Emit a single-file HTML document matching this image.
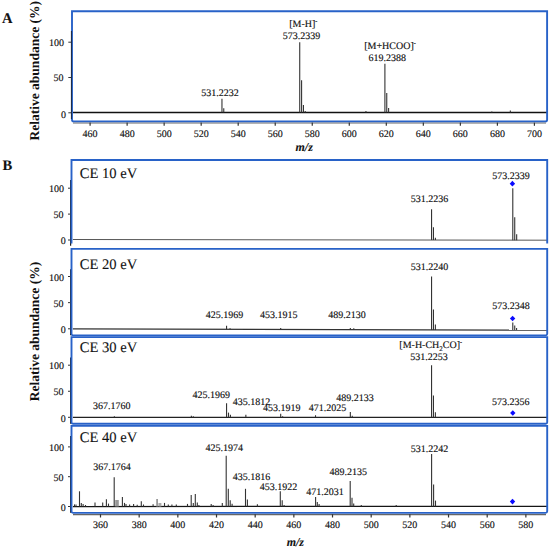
<!DOCTYPE html>
<html><head><meta charset="utf-8"><style>
html,body{margin:0;padding:0;background:#fff;}
svg{display:block;font-family:"Liberation Serif",serif;text-rendering:geometricPrecision;}
</style></head><body>
<svg width="550" height="548" viewBox="0 0 550 548">
<rect width="550" height="548" fill="#fff"/>
<line x1="68.30" y1="42.20" x2="71.00" y2="42.20" stroke="#333" stroke-width="1.0"/>
<line x1="68.30" y1="77.50" x2="71.00" y2="77.50" stroke="#333" stroke-width="1.0"/>
<line x1="68.30" y1="112.80" x2="71.00" y2="112.80" stroke="#333" stroke-width="1.0"/>
<text x="63.90" y="46.00" font-size="10" text-anchor="end" font-weight="normal" font-style="normal" fill="#111" stroke="#111" stroke-width="0.15" >100</text>
<text x="63.40" y="81.40" font-size="10" text-anchor="end" font-weight="normal" font-style="normal" fill="#111" stroke="#111" stroke-width="0.15" >50</text>
<text x="66.00" y="117.50" font-size="10" text-anchor="end" font-weight="normal" font-style="normal" fill="#111" stroke="#111" stroke-width="0.15" >0</text>
<line x1="73.00" y1="123.00" x2="546.00" y2="123.00" stroke="#666" stroke-width="1.2"/>
<line x1="90.10" y1="122.60" x2="90.10" y2="125.80" stroke="#333" stroke-width="1.2"/>
<text x="90.10" y="136.70" font-size="10" text-anchor="middle" font-weight="normal" font-style="normal" fill="#111" stroke="#111" stroke-width="0.15" >460</text>
<line x1="127.13" y1="122.60" x2="127.13" y2="125.80" stroke="#333" stroke-width="1.2"/>
<text x="127.13" y="136.70" font-size="10" text-anchor="middle" font-weight="normal" font-style="normal" fill="#111" stroke="#111" stroke-width="0.15" >480</text>
<line x1="164.15" y1="122.60" x2="164.15" y2="125.80" stroke="#333" stroke-width="1.2"/>
<text x="164.15" y="136.70" font-size="10" text-anchor="middle" font-weight="normal" font-style="normal" fill="#111" stroke="#111" stroke-width="0.15" >500</text>
<line x1="201.18" y1="122.60" x2="201.18" y2="125.80" stroke="#333" stroke-width="1.2"/>
<text x="201.18" y="136.70" font-size="10" text-anchor="middle" font-weight="normal" font-style="normal" fill="#111" stroke="#111" stroke-width="0.15" >520</text>
<line x1="238.20" y1="122.60" x2="238.20" y2="125.80" stroke="#333" stroke-width="1.2"/>
<text x="238.20" y="136.70" font-size="10" text-anchor="middle" font-weight="normal" font-style="normal" fill="#111" stroke="#111" stroke-width="0.15" >540</text>
<line x1="275.23" y1="122.60" x2="275.23" y2="125.80" stroke="#333" stroke-width="1.2"/>
<text x="275.23" y="136.70" font-size="10" text-anchor="middle" font-weight="normal" font-style="normal" fill="#111" stroke="#111" stroke-width="0.15" >560</text>
<line x1="312.26" y1="122.60" x2="312.26" y2="125.80" stroke="#333" stroke-width="1.2"/>
<text x="312.26" y="136.70" font-size="10" text-anchor="middle" font-weight="normal" font-style="normal" fill="#111" stroke="#111" stroke-width="0.15" >580</text>
<line x1="349.28" y1="122.60" x2="349.28" y2="125.80" stroke="#333" stroke-width="1.2"/>
<text x="349.28" y="136.70" font-size="10" text-anchor="middle" font-weight="normal" font-style="normal" fill="#111" stroke="#111" stroke-width="0.15" >600</text>
<line x1="386.31" y1="122.60" x2="386.31" y2="125.80" stroke="#333" stroke-width="1.2"/>
<text x="386.31" y="136.70" font-size="10" text-anchor="middle" font-weight="normal" font-style="normal" fill="#111" stroke="#111" stroke-width="0.15" >620</text>
<line x1="423.33" y1="122.60" x2="423.33" y2="125.80" stroke="#333" stroke-width="1.2"/>
<text x="423.33" y="136.70" font-size="10" text-anchor="middle" font-weight="normal" font-style="normal" fill="#111" stroke="#111" stroke-width="0.15" >640</text>
<line x1="460.36" y1="122.60" x2="460.36" y2="125.80" stroke="#333" stroke-width="1.2"/>
<text x="460.36" y="136.70" font-size="10" text-anchor="middle" font-weight="normal" font-style="normal" fill="#111" stroke="#111" stroke-width="0.15" >660</text>
<line x1="497.39" y1="122.60" x2="497.39" y2="125.80" stroke="#333" stroke-width="1.2"/>
<text x="497.39" y="136.70" font-size="10" text-anchor="middle" font-weight="normal" font-style="normal" fill="#111" stroke="#111" stroke-width="0.15" >680</text>
<line x1="534.41" y1="122.60" x2="534.41" y2="125.80" stroke="#333" stroke-width="1.2"/>
<text x="534.41" y="136.70" font-size="10" text-anchor="middle" font-weight="normal" font-style="normal" fill="#111" stroke="#111" stroke-width="0.15" >700</text>
<line x1="72.80" y1="112.40" x2="547.00" y2="112.40" stroke="#111" stroke-width="1.5"/>
<line x1="221.96" y1="112.50" x2="221.96" y2="98.79" stroke="#333" stroke-width="1.1"/>
<line x1="223.76" y1="112.50" x2="223.76" y2="108.28" stroke="#333" stroke-width="1.1"/>
<line x1="299.73" y1="112.50" x2="299.73" y2="42.20" stroke="#333" stroke-width="1.1"/>
<line x1="301.59" y1="112.50" x2="301.59" y2="80.16" stroke="#333" stroke-width="1.1"/>
<line x1="303.44" y1="112.50" x2="303.44" y2="104.98" stroke="#333" stroke-width="1.1"/>
<line x1="305.22" y1="112.50" x2="305.22" y2="111.09" stroke="#333" stroke-width="1.1"/>
<line x1="365.94" y1="112.50" x2="365.94" y2="111.09" stroke="#333" stroke-width="1.1"/>
<line x1="384.90" y1="112.50" x2="384.90" y2="63.71" stroke="#333" stroke-width="1.1"/>
<line x1="386.75" y1="112.50" x2="386.75" y2="93.03" stroke="#333" stroke-width="1.1"/>
<line x1="388.60" y1="112.50" x2="388.60" y2="107.93" stroke="#333" stroke-width="1.1"/>
<line x1="491.83" y1="112.50" x2="491.83" y2="111.45" stroke="#333" stroke-width="1.1"/>
<line x1="510.35" y1="112.50" x2="510.35" y2="110.39" stroke="#333" stroke-width="1.1"/>
<path d="M72.0 11.2 H547.1 V119.8 Q547.1 121.4 545.5 121.4 H73.6 Q72.0 121.4 72.0 119.8 Z" fill="none" stroke="#2862c8" stroke-width="1.9"/>
<line x1="71.4" y1="31" x2="71.4" y2="119" stroke="#111" stroke-width="1.0" stroke-opacity="0.75"/>
<text x="303.30" y="26.50" font-size="10" text-anchor="middle" font-weight="normal" font-style="normal" fill="#111" stroke="#111" stroke-width="0.15" >[M-H]<tspan font-size='6' dy='-4'>-</tspan></text>
<text x="301.60" y="38.50" font-size="10" text-anchor="middle" font-weight="normal" font-style="normal" fill="#111" stroke="#111" stroke-width="0.15" >573.2339</text>
<text x="390.00" y="48.80" font-size="10" text-anchor="middle" font-weight="normal" font-style="normal" fill="#111" stroke="#111" stroke-width="0.15" >[M+HCOO]<tspan font-size='6' dy='-4'>-</tspan></text>
<text x="387.30" y="60.80" font-size="10" text-anchor="middle" font-weight="normal" font-style="normal" fill="#111" stroke="#111" stroke-width="0.15" >619.2388</text>
<text x="220.00" y="95.50" font-size="10" text-anchor="middle" font-weight="normal" font-style="normal" fill="#111" stroke="#111" stroke-width="0.15" >531.2232</text>
<text x="304.20" y="151.40" font-size="12" text-anchor="middle" font-weight="bold" font-style="italic" fill="#111" stroke="#111" stroke-width="0.1" >m/z</text>
<text x="2.00" y="23.00" font-size="14.6" text-anchor="start" font-weight="bold" font-style="normal" fill="#111" stroke="#111" stroke-width="0.1" >A</text>
<text transform="translate(39.3,70.75) rotate(-90)" font-size="13.5" text-anchor="middle" font-weight="bold" fill="#111">Relative abundance (%)</text>
<text x="2.50" y="170.40" font-size="14.6" text-anchor="start" font-weight="bold" font-style="normal" fill="#111" stroke="#111" stroke-width="0.1" >B</text>
<text transform="translate(39.3,331.55) rotate(-90)" font-size="13.5" text-anchor="middle" font-weight="bold" fill="#111">Relative abundance (%)</text>
<line x1="70.60" y1="179.90" x2="70.60" y2="245.80" stroke="#222" stroke-width="1.2"/>
<line x1="68.00" y1="188.20" x2="70.60" y2="188.20" stroke="#333" stroke-width="1.0"/>
<line x1="68.00" y1="214.10" x2="70.60" y2="214.10" stroke="#333" stroke-width="1.0"/>
<line x1="68.00" y1="240.00" x2="70.60" y2="240.00" stroke="#333" stroke-width="1.0"/>
<text x="63.90" y="192.20" font-size="10" text-anchor="end" font-weight="normal" font-style="normal" fill="#111" stroke="#111" stroke-width="0.15" >100</text>
<text x="63.60" y="218.10" font-size="10" text-anchor="end" font-weight="normal" font-style="normal" fill="#111" stroke="#111" stroke-width="0.15" >50</text>
<text x="65.70" y="244.30" font-size="10" text-anchor="end" font-weight="normal" font-style="normal" fill="#111" stroke="#111" stroke-width="0.15" >0</text>
<line x1="72.90" y1="239.50" x2="547.50" y2="240.20" stroke="#555" stroke-width="1.0"/>
<line x1="431.56" y1="240.03" x2="431.56" y2="209.23" stroke="#333" stroke-width="1.1"/>
<line x1="433.45" y1="240.03" x2="433.45" y2="227.36" stroke="#333" stroke-width="1.1"/>
<line x1="435.38" y1="240.03" x2="435.38" y2="237.72" stroke="#333" stroke-width="1.1"/>
<line x1="512.79" y1="240.15" x2="512.79" y2="188.20" stroke="#333" stroke-width="1.1"/>
<line x1="514.73" y1="240.15" x2="514.73" y2="217.36" stroke="#333" stroke-width="1.1"/>
<line x1="516.67" y1="240.15" x2="516.67" y2="234.30" stroke="#333" stroke-width="1.1"/>
<path d="M71.5 243.6 V160.00 H547.2 V243.6" fill="none" stroke="#2862c8" stroke-width="1.9"/>
<text x="79.70" y="177.70" font-size="14.6" text-anchor="start" font-weight="normal" font-style="normal" fill="#111" stroke="#111" stroke-width="0.1" >CE 10 eV</text>
<line x1="70.60" y1="269.20" x2="70.60" y2="335.35" stroke="#222" stroke-width="1.2"/>
<line x1="68.00" y1="276.50" x2="70.60" y2="276.50" stroke="#333" stroke-width="1.0"/>
<line x1="68.00" y1="302.65" x2="70.60" y2="302.65" stroke="#333" stroke-width="1.0"/>
<line x1="68.00" y1="328.80" x2="70.60" y2="328.80" stroke="#333" stroke-width="1.0"/>
<text x="63.90" y="280.50" font-size="10" text-anchor="end" font-weight="normal" font-style="normal" fill="#111" stroke="#111" stroke-width="0.15" >100</text>
<text x="63.60" y="306.65" font-size="10" text-anchor="end" font-weight="normal" font-style="normal" fill="#111" stroke="#111" stroke-width="0.15" >50</text>
<text x="65.70" y="333.10" font-size="10" text-anchor="end" font-weight="normal" font-style="normal" fill="#111" stroke="#111" stroke-width="0.15" >0</text>
<line x1="72.90" y1="328.90" x2="547.50" y2="330.20" stroke="#333" stroke-width="1.2"/>
<line x1="226.56" y1="329.32" x2="226.56" y2="325.66" stroke="#333" stroke-width="1.1"/>
<line x1="230.04" y1="329.33" x2="230.04" y2="328.28" stroke="#333" stroke-width="1.1"/>
<line x1="280.69" y1="329.47" x2="280.69" y2="328.02" stroke="#333" stroke-width="1.1"/>
<line x1="350.33" y1="329.66" x2="350.33" y2="328.02" stroke="#333" stroke-width="1.1"/>
<line x1="353.79" y1="329.67" x2="353.79" y2="328.28" stroke="#333" stroke-width="1.1"/>
<line x1="431.56" y1="329.88" x2="431.56" y2="276.50" stroke="#333" stroke-width="1.1"/>
<line x1="433.45" y1="329.89" x2="433.45" y2="309.45" stroke="#333" stroke-width="1.1"/>
<line x1="435.38" y1="329.89" x2="435.38" y2="324.51" stroke="#333" stroke-width="1.1"/>
<line x1="512.79" y1="330.10" x2="512.79" y2="322.52" stroke="#333" stroke-width="1.1"/>
<line x1="514.73" y1="330.11" x2="514.73" y2="325.40" stroke="#333" stroke-width="1.1"/>
<line x1="516.59" y1="330.12" x2="516.59" y2="328.02" stroke="#333" stroke-width="1.1"/>
<path d="M71.5 248.85 H547.2 V333.85 Q547.2 335.35 545.7 335.35 H73.0 Q71.5 335.35 71.5 333.85 Z" fill="none" stroke="#2862c8" stroke-width="1.9"/>
<text x="79.70" y="268.50" font-size="14.6" text-anchor="start" font-weight="normal" font-style="normal" fill="#111" stroke="#111" stroke-width="0.1" >CE 20 eV</text>
<line x1="70.60" y1="357.40" x2="70.60" y2="423.75" stroke="#222" stroke-width="1.2"/>
<line x1="68.00" y1="365.20" x2="70.60" y2="365.20" stroke="#333" stroke-width="1.0"/>
<line x1="68.00" y1="391.25" x2="70.60" y2="391.25" stroke="#333" stroke-width="1.0"/>
<line x1="68.00" y1="417.30" x2="70.60" y2="417.30" stroke="#333" stroke-width="1.0"/>
<text x="63.90" y="369.20" font-size="10" text-anchor="end" font-weight="normal" font-style="normal" fill="#111" stroke="#111" stroke-width="0.15" >100</text>
<text x="63.60" y="395.25" font-size="10" text-anchor="end" font-weight="normal" font-style="normal" fill="#111" stroke="#111" stroke-width="0.15" >50</text>
<text x="65.70" y="421.60" font-size="10" text-anchor="end" font-weight="normal" font-style="normal" fill="#111" stroke="#111" stroke-width="0.15" >0</text>
<line x1="72.90" y1="417.30" x2="547.50" y2="417.30" stroke="#222" stroke-width="1.2"/>
<line x1="114.37" y1="417.30" x2="114.37" y2="416.26" stroke="#333" stroke-width="1.1"/>
<line x1="191.37" y1="417.30" x2="191.37" y2="415.74" stroke="#333" stroke-width="1.1"/>
<line x1="193.31" y1="417.30" x2="193.31" y2="416.26" stroke="#333" stroke-width="1.1"/>
<line x1="226.56" y1="417.30" x2="226.56" y2="403.23" stroke="#333" stroke-width="1.1"/>
<line x1="228.50" y1="417.30" x2="228.50" y2="412.61" stroke="#333" stroke-width="1.1"/>
<line x1="230.43" y1="417.30" x2="230.43" y2="414.69" stroke="#333" stroke-width="1.1"/>
<line x1="245.86" y1="417.30" x2="245.86" y2="414.69" stroke="#333" stroke-width="1.1"/>
<line x1="280.69" y1="417.30" x2="280.69" y2="413.65" stroke="#333" stroke-width="1.1"/>
<line x1="282.64" y1="417.30" x2="282.64" y2="416.26" stroke="#333" stroke-width="1.1"/>
<line x1="315.51" y1="417.30" x2="315.51" y2="415.22" stroke="#333" stroke-width="1.1"/>
<line x1="350.33" y1="417.30" x2="350.33" y2="412.09" stroke="#333" stroke-width="1.1"/>
<line x1="352.24" y1="417.30" x2="352.24" y2="415.74" stroke="#333" stroke-width="1.1"/>
<line x1="431.56" y1="417.30" x2="431.56" y2="365.20" stroke="#333" stroke-width="1.1"/>
<line x1="433.45" y1="417.30" x2="433.45" y2="395.57" stroke="#333" stroke-width="1.1"/>
<line x1="435.38" y1="417.30" x2="435.38" y2="412.19" stroke="#333" stroke-width="1.1"/>
<path d="M71.5 337.10 H547.2 V422.25 Q547.2 423.75 545.7 423.75 H73.0 Q71.5 423.75 71.5 422.25 Z" fill="none" stroke="#2862c8" stroke-width="1.9"/>
<text x="79.70" y="351.80" font-size="14.6" text-anchor="start" font-weight="normal" font-style="normal" fill="#111" stroke="#111" stroke-width="0.1" >CE 30 eV</text>
<line x1="70.60" y1="436.00" x2="70.60" y2="512.85" stroke="#222" stroke-width="1.2"/>
<line x1="68.00" y1="446.90" x2="70.60" y2="446.90" stroke="#333" stroke-width="1.0"/>
<line x1="68.00" y1="476.70" x2="70.60" y2="476.70" stroke="#333" stroke-width="1.0"/>
<line x1="68.00" y1="506.50" x2="70.60" y2="506.50" stroke="#333" stroke-width="1.0"/>
<text x="63.90" y="450.90" font-size="10" text-anchor="end" font-weight="normal" font-style="normal" fill="#111" stroke="#111" stroke-width="0.15" >100</text>
<text x="63.60" y="480.70" font-size="10" text-anchor="end" font-weight="normal" font-style="normal" fill="#111" stroke="#111" stroke-width="0.15" >50</text>
<text x="65.70" y="510.80" font-size="10" text-anchor="end" font-weight="normal" font-style="normal" fill="#111" stroke="#111" stroke-width="0.15" >0</text>
<line x1="72.90" y1="506.50" x2="547.50" y2="506.30" stroke="#151515" stroke-width="1.25"/>
<path d="M71.5 425.85 H547.2 V511.35 Q547.2 512.85 545.7 512.85 H73.0 Q71.5 512.85 71.5 511.35 Z" fill="none" stroke="#2862c8" stroke-width="1.9"/>
<text x="79.70" y="442.40" font-size="14.6" text-anchor="start" font-weight="normal" font-style="normal" fill="#111" stroke="#111" stroke-width="0.1" >CE 40 eV</text>
<line x1="74.50" y1="506.50" x2="74.50" y2="504.40" stroke="#333" stroke-width="1.1"/>
<line x1="76.00" y1="506.50" x2="76.00" y2="504.60" stroke="#333" stroke-width="1.1"/>
<line x1="79.50" y1="506.50" x2="79.50" y2="491.30" stroke="#333" stroke-width="1.1"/>
<line x1="81.30" y1="506.50" x2="81.30" y2="502.90" stroke="#333" stroke-width="1.1"/>
<line x1="83.10" y1="506.50" x2="83.10" y2="504.00" stroke="#333" stroke-width="1.1"/>
<line x1="85.50" y1="506.50" x2="85.50" y2="505.00" stroke="#333" stroke-width="1.1"/>
<line x1="95.00" y1="506.50" x2="95.00" y2="502.60" stroke="#333" stroke-width="1.1"/>
<line x1="102.70" y1="506.50" x2="102.70" y2="502.60" stroke="#333" stroke-width="1.1"/>
<line x1="106.40" y1="506.50" x2="106.40" y2="499.30" stroke="#333" stroke-width="1.1"/>
<line x1="108.50" y1="506.50" x2="108.50" y2="503.60" stroke="#333" stroke-width="1.1"/>
<line x1="114.20" y1="506.50" x2="114.20" y2="477.20" stroke="#333" stroke-width="1.1"/>
<line x1="122.40" y1="506.50" x2="122.40" y2="497.10" stroke="#333" stroke-width="1.1"/>
<line x1="124.50" y1="506.50" x2="124.50" y2="502.90" stroke="#333" stroke-width="1.1"/>
<line x1="126.00" y1="506.50" x2="126.00" y2="504.00" stroke="#333" stroke-width="1.1"/>
<line x1="129.60" y1="506.50" x2="129.60" y2="504.40" stroke="#333" stroke-width="1.1"/>
<line x1="133.60" y1="506.50" x2="133.60" y2="504.00" stroke="#333" stroke-width="1.1"/>
<line x1="137.20" y1="506.50" x2="137.20" y2="504.80" stroke="#333" stroke-width="1.1"/>
<line x1="141.30" y1="506.50" x2="141.30" y2="501.20" stroke="#333" stroke-width="1.1"/>
<line x1="143.50" y1="506.50" x2="143.50" y2="504.50" stroke="#333" stroke-width="1.1"/>
<line x1="153.10" y1="506.50" x2="153.10" y2="504.20" stroke="#333" stroke-width="1.1"/>
<line x1="164.50" y1="506.50" x2="164.50" y2="502.90" stroke="#333" stroke-width="1.1"/>
<line x1="168.30" y1="506.50" x2="168.30" y2="504.50" stroke="#333" stroke-width="1.1"/>
<line x1="171.90" y1="506.50" x2="171.90" y2="504.50" stroke="#333" stroke-width="1.1"/>
<line x1="176.30" y1="506.50" x2="176.30" y2="504.50" stroke="#333" stroke-width="1.1"/>
<line x1="187.50" y1="506.50" x2="187.50" y2="503.90" stroke="#333" stroke-width="1.1"/>
<line x1="191.20" y1="506.50" x2="191.20" y2="494.90" stroke="#333" stroke-width="1.1"/>
<line x1="193.30" y1="506.50" x2="193.30" y2="502.90" stroke="#333" stroke-width="1.1"/>
<line x1="195.30" y1="506.50" x2="195.30" y2="493.90" stroke="#333" stroke-width="1.1"/>
<line x1="197.30" y1="506.50" x2="197.30" y2="502.50" stroke="#333" stroke-width="1.1"/>
<line x1="198.90" y1="506.50" x2="198.90" y2="505.00" stroke="#333" stroke-width="1.1"/>
<line x1="211.20" y1="506.50" x2="211.20" y2="503.90" stroke="#333" stroke-width="1.1"/>
<line x1="213.10" y1="506.50" x2="213.10" y2="505.00" stroke="#333" stroke-width="1.1"/>
<line x1="222.30" y1="506.50" x2="222.30" y2="503.00" stroke="#333" stroke-width="1.1"/>
<line x1="226.20" y1="506.50" x2="226.20" y2="455.70" stroke="#333" stroke-width="1.1"/>
<line x1="228.30" y1="506.50" x2="228.30" y2="488.80" stroke="#333" stroke-width="1.1"/>
<line x1="230.20" y1="506.50" x2="230.20" y2="500.20" stroke="#333" stroke-width="1.1"/>
<line x1="232.10" y1="506.50" x2="232.10" y2="503.70" stroke="#333" stroke-width="1.1"/>
<line x1="245.50" y1="506.50" x2="245.50" y2="488.80" stroke="#333" stroke-width="1.1"/>
<line x1="247.40" y1="506.50" x2="247.40" y2="499.50" stroke="#333" stroke-width="1.1"/>
<line x1="257.40" y1="506.50" x2="257.40" y2="504.20" stroke="#333" stroke-width="1.1"/>
<line x1="280.30" y1="506.50" x2="280.30" y2="491.20" stroke="#333" stroke-width="1.1"/>
<line x1="282.20" y1="506.50" x2="282.20" y2="500.20" stroke="#333" stroke-width="1.1"/>
<line x1="284.10" y1="506.50" x2="284.10" y2="504.90" stroke="#333" stroke-width="1.1"/>
<line x1="315.60" y1="506.50" x2="315.60" y2="496.90" stroke="#333" stroke-width="1.1"/>
<line x1="317.30" y1="506.50" x2="317.30" y2="502.10" stroke="#333" stroke-width="1.1"/>
<line x1="319.10" y1="506.50" x2="319.10" y2="504.10" stroke="#333" stroke-width="1.1"/>
<line x1="350.20" y1="506.50" x2="350.20" y2="481.10" stroke="#333" stroke-width="1.1"/>
<line x1="352.00" y1="506.50" x2="352.00" y2="497.70" stroke="#333" stroke-width="1.1"/>
<line x1="353.70" y1="506.50" x2="353.70" y2="503.50" stroke="#333" stroke-width="1.1"/>
<line x1="361.30" y1="506.50" x2="361.30" y2="505.00" stroke="#333" stroke-width="1.1"/>
<line x1="396.20" y1="506.50" x2="396.20" y2="505.00" stroke="#333" stroke-width="1.1"/>
<line x1="431.60" y1="506.50" x2="431.60" y2="454.10" stroke="#333" stroke-width="1.1"/>
<line x1="433.60" y1="506.50" x2="433.60" y2="484.60" stroke="#333" stroke-width="1.1"/>
<line x1="435.50" y1="506.50" x2="435.50" y2="500.60" stroke="#333" stroke-width="1.1"/>
<rect x="115.2" y="500" width="3.6" height="6.5" fill="#999"/>
<rect x="156.2" y="499" width="1.8" height="7.5" fill="#999"/>
<rect x="158.4" y="503" width="3" height="3.5" fill="#aaa"/>
<text x="429.60" y="201.80" font-size="10" text-anchor="middle" font-weight="normal" font-style="normal" fill="#111" stroke="#111" stroke-width="0.15" >531.2236</text>
<text x="511.00" y="178.80" font-size="10" text-anchor="middle" font-weight="normal" font-style="normal" fill="#111" stroke="#111" stroke-width="0.15" >573.2339</text>
<text x="224.60" y="317.90" font-size="10" text-anchor="middle" font-weight="normal" font-style="normal" fill="#111" stroke="#111" stroke-width="0.15" >425.1969</text>
<text x="278.70" y="317.90" font-size="10" text-anchor="middle" font-weight="normal" font-style="normal" fill="#111" stroke="#111" stroke-width="0.15" >453.1915</text>
<text x="347.00" y="317.90" font-size="10" text-anchor="middle" font-weight="normal" font-style="normal" fill="#111" stroke="#111" stroke-width="0.15" >489.2130</text>
<text x="429.60" y="269.80" font-size="10" text-anchor="middle" font-weight="normal" font-style="normal" fill="#111" stroke="#111" stroke-width="0.15" >531.2240</text>
<text x="511.10" y="308.60" font-size="10" text-anchor="middle" font-weight="normal" font-style="normal" fill="#111" stroke="#111" stroke-width="0.15" >573.2348</text>
<text x="111.80" y="408.50" font-size="10" text-anchor="middle" font-weight="normal" font-style="normal" fill="#111" stroke="#111" stroke-width="0.15" >367.1760</text>
<text x="211.30" y="398.10" font-size="10" text-anchor="middle" font-weight="normal" font-style="normal" fill="#111" stroke="#111" stroke-width="0.15" >425.1969</text>
<text x="251.40" y="404.60" font-size="10" text-anchor="middle" font-weight="normal" font-style="normal" fill="#111" stroke="#111" stroke-width="0.15" >435.1812</text>
<text x="281.70" y="411.20" font-size="10" text-anchor="middle" font-weight="normal" font-style="normal" fill="#111" stroke="#111" stroke-width="0.15" >453.1919</text>
<text x="327.40" y="411.10" font-size="10" text-anchor="middle" font-weight="normal" font-style="normal" fill="#111" stroke="#111" stroke-width="0.15" >471.2025</text>
<text x="355.00" y="401.20" font-size="10" text-anchor="middle" font-weight="normal" font-style="normal" fill="#111" stroke="#111" stroke-width="0.15" >489.2133</text>
<text x="430.70" y="348.30" font-size="10" text-anchor="middle" font-weight="normal" font-style="normal" fill="#111" stroke="#111" stroke-width="0.15" >[M-H-CH<tspan font-size='7' dy='2.2'>2</tspan><tspan dy='-2.2'>CO]</tspan><tspan font-size='6' dy='-4'>-</tspan></text>
<text x="429.00" y="360.40" font-size="10" text-anchor="middle" font-weight="normal" font-style="normal" fill="#111" stroke="#111" stroke-width="0.15" >531.2253</text>
<text x="510.70" y="404.50" font-size="10" text-anchor="middle" font-weight="normal" font-style="normal" fill="#111" stroke="#111" stroke-width="0.15" >573.2356</text>
<text x="111.90" y="469.60" font-size="10" text-anchor="middle" font-weight="normal" font-style="normal" fill="#111" stroke="#111" stroke-width="0.15" >367.1764</text>
<text x="224.30" y="451.20" font-size="10" text-anchor="middle" font-weight="normal" font-style="normal" fill="#111" stroke="#111" stroke-width="0.15" >425.1974</text>
<text x="251.50" y="479.60" font-size="10" text-anchor="middle" font-weight="normal" font-style="normal" fill="#111" stroke="#111" stroke-width="0.15" >435.1816</text>
<text x="278.60" y="489.70" font-size="10" text-anchor="middle" font-weight="normal" font-style="normal" fill="#111" stroke="#111" stroke-width="0.15" >453.1922</text>
<text x="324.90" y="495.10" font-size="10" text-anchor="middle" font-weight="normal" font-style="normal" fill="#111" stroke="#111" stroke-width="0.15" >471.2031</text>
<text x="348.20" y="474.70" font-size="10" text-anchor="middle" font-weight="normal" font-style="normal" fill="#111" stroke="#111" stroke-width="0.15" >489.2135</text>
<text x="429.60" y="451.50" font-size="10" text-anchor="middle" font-weight="normal" font-style="normal" fill="#111" stroke="#111" stroke-width="0.15" >531.2242</text>
<path d="M512.40 180.85 L515.10 183.70 L512.40 186.55 L509.70 183.70 Z" fill="#0a0aff"/>
<path d="M512.60 315.65 L515.30 318.50 L512.60 321.35 L509.90 318.50 Z" fill="#0a0aff"/>
<path d="M512.80 410.15 L515.50 413.00 L512.80 415.85 L510.10 413.00 Z" fill="#0a0aff"/>
<path d="M512.50 498.75 L515.20 501.60 L512.50 504.45 L509.80 501.60 Z" fill="#0a0aff"/>
<line x1="73.00" y1="514.60" x2="546.00" y2="514.60" stroke="#666" stroke-width="1.2"/>
<line x1="100.50" y1="514.20" x2="100.50" y2="517.50" stroke="#333" stroke-width="1.2"/>
<text x="100.50" y="528.10" font-size="10" text-anchor="middle" font-weight="normal" font-style="normal" fill="#111" stroke="#111" stroke-width="0.15" >360</text>
<line x1="139.17" y1="514.20" x2="139.17" y2="517.50" stroke="#333" stroke-width="1.2"/>
<text x="139.17" y="528.10" font-size="10" text-anchor="middle" font-weight="normal" font-style="normal" fill="#111" stroke="#111" stroke-width="0.15" >380</text>
<line x1="177.84" y1="514.20" x2="177.84" y2="517.50" stroke="#333" stroke-width="1.2"/>
<text x="177.84" y="528.10" font-size="10" text-anchor="middle" font-weight="normal" font-style="normal" fill="#111" stroke="#111" stroke-width="0.15" >400</text>
<line x1="216.51" y1="514.20" x2="216.51" y2="517.50" stroke="#333" stroke-width="1.2"/>
<text x="216.51" y="528.10" font-size="10" text-anchor="middle" font-weight="normal" font-style="normal" fill="#111" stroke="#111" stroke-width="0.15" >420</text>
<line x1="255.18" y1="514.20" x2="255.18" y2="517.50" stroke="#333" stroke-width="1.2"/>
<text x="255.18" y="528.10" font-size="10" text-anchor="middle" font-weight="normal" font-style="normal" fill="#111" stroke="#111" stroke-width="0.15" >440</text>
<line x1="293.85" y1="514.20" x2="293.85" y2="517.50" stroke="#333" stroke-width="1.2"/>
<text x="293.85" y="528.10" font-size="10" text-anchor="middle" font-weight="normal" font-style="normal" fill="#111" stroke="#111" stroke-width="0.15" >460</text>
<line x1="332.52" y1="514.20" x2="332.52" y2="517.50" stroke="#333" stroke-width="1.2"/>
<text x="332.52" y="528.10" font-size="10" text-anchor="middle" font-weight="normal" font-style="normal" fill="#111" stroke="#111" stroke-width="0.15" >480</text>
<line x1="371.19" y1="514.20" x2="371.19" y2="517.50" stroke="#333" stroke-width="1.2"/>
<text x="371.19" y="528.10" font-size="10" text-anchor="middle" font-weight="normal" font-style="normal" fill="#111" stroke="#111" stroke-width="0.15" >500</text>
<line x1="409.86" y1="514.20" x2="409.86" y2="517.50" stroke="#333" stroke-width="1.2"/>
<text x="409.86" y="528.10" font-size="10" text-anchor="middle" font-weight="normal" font-style="normal" fill="#111" stroke="#111" stroke-width="0.15" >520</text>
<line x1="448.53" y1="514.20" x2="448.53" y2="517.50" stroke="#333" stroke-width="1.2"/>
<text x="448.53" y="528.10" font-size="10" text-anchor="middle" font-weight="normal" font-style="normal" fill="#111" stroke="#111" stroke-width="0.15" >540</text>
<line x1="487.20" y1="514.20" x2="487.20" y2="517.50" stroke="#333" stroke-width="1.2"/>
<text x="487.20" y="528.10" font-size="10" text-anchor="middle" font-weight="normal" font-style="normal" fill="#111" stroke="#111" stroke-width="0.15" >560</text>
<line x1="525.87" y1="514.20" x2="525.87" y2="517.50" stroke="#333" stroke-width="1.2"/>
<text x="525.87" y="528.10" font-size="10" text-anchor="middle" font-weight="normal" font-style="normal" fill="#111" stroke="#111" stroke-width="0.15" >580</text>
<text x="295.30" y="545.70" font-size="12" text-anchor="middle" font-weight="bold" font-style="italic" fill="#111" stroke="#111" stroke-width="0.1" >m/z</text>
</svg>
</body></html>
